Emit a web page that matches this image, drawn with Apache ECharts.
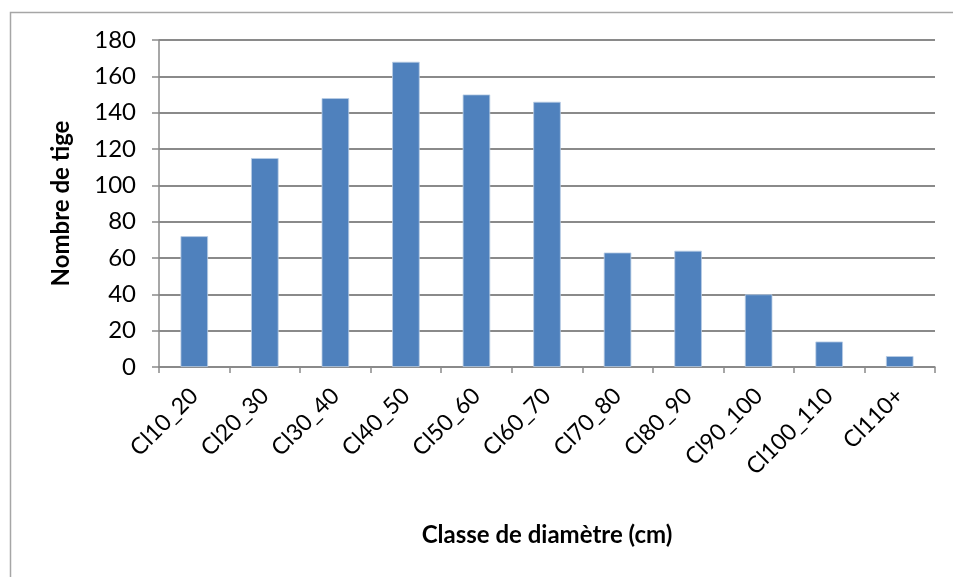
<!DOCTYPE html>
<html>
<head>
<meta charset="utf-8">
<script src="https://cdn.jsdelivr.net/npm/echarts@6/dist/echarts.min.js"></script>
<style>
  html, body { margin: 0; padding: 0; background: #fff; }
  #chart { width: 953px; height: 577px; }
</style>
</head>
<body>
<div id="chart"></div>
<script>
// Diameter classes and stem counts
const categories = ['Cl10_20', 'Cl20_30', 'Cl30_40', 'Cl40_50', 'Cl50_60', 'Cl60_70',
                    'Cl70_80', 'Cl80_90', 'Cl90_100', 'Cl100_110', 'Cl110+'];
const stemCounts = [72, 115, 148, 168, 150, 146, 63, 64, 40, 14, 6];
const xTitle = 'Classe de diamètre (cm)';
const yTitle = 'Nombre de tige';

const FONT = 'Lato, "Open Sans", sans-serif';
const GRID_COLOR = '#8a8a8a';

const chart = echarts.init(document.getElementById('chart'));
chart.setOption({
  animation: false,
  backgroundColor: '#ffffff',
  graphic: [{
    type: 'rect',
    shape: { x: 10.5, y: 12.5, width: 1000, height: 700 },
    style: { fill: 'none', stroke: '#a6a6a6', lineWidth: 1.5 },
    silent: true
  }],
  grid: { left: 159, right: 18, top: 40, bottom: 210, containLabel: false },
  xAxis: {
    type: 'category',
    data: categories,
    name: xTitle,
    nameLocation: 'middle',
    nameGap: 156,
    nameTextStyle: { fontFamily: FONT, fontWeight: 'bold', fontSize: 24, color: '#000' },
    axisLine: { lineStyle: { color: GRID_COLOR, width: 1.5 } },
    axisTick: { show: true, alignWithLabel: false, length: 6, lineStyle: { color: GRID_COLOR, width: 1.5 } },
    axisLabel: { rotate: 45, margin: 25, fontFamily: FONT, fontSize: 23, color: '#000', interval: 0 },
    splitLine: { show: false }
  },
  yAxis: {
    type: 'value',
    min: 0,
    max: 180,
    interval: 20,
    name: yTitle,
    nameLocation: 'middle',
    nameGap: 86,
    nameRotate: 90,
    nameTextStyle: { fontFamily: FONT, fontWeight: 'bold', fontSize: 24, color: '#000' },
    axisLine: { show: true, lineStyle: { color: GRID_COLOR, width: 1.5 } },
    axisTick: { show: true, length: 7, lineStyle: { color: GRID_COLOR, width: 1.5 } },
    axisLabel: { margin: 23, fontFamily: FONT, fontSize: 24, color: '#000' },
    splitLine: { show: true, lineStyle: { color: GRID_COLOR, width: 1.8 } }
  },
  series: [{
    type: 'bar',
    data: stemCounts,
    barWidth: '39%',
    itemStyle: { color: '#4f81bd', borderColor: '#b9cde5', borderWidth: 0.8 }
  }]
});
</script>
</body>
</html>
